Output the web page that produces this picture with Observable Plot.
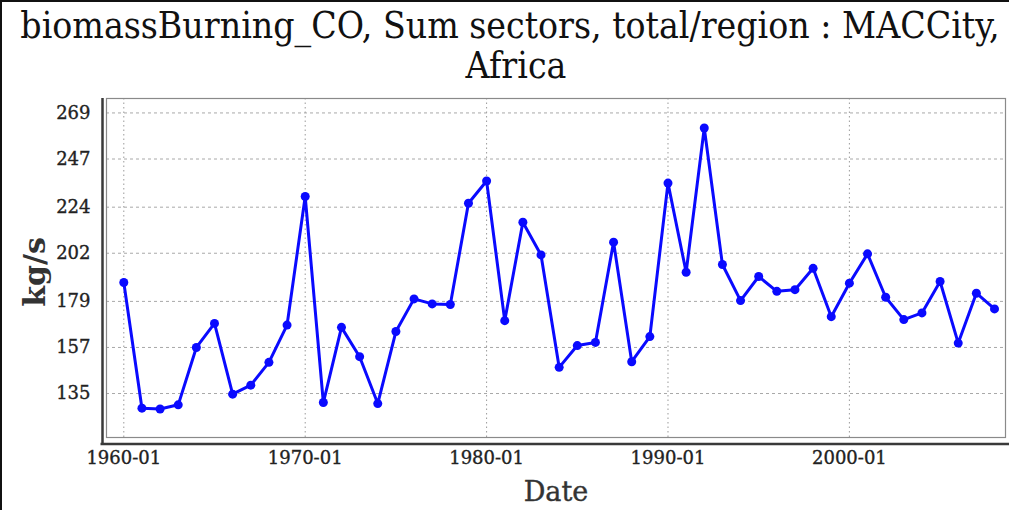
<!DOCTYPE html>
<html>
<head>
<meta charset="utf-8">
<script src="https://cdn.jsdelivr.net/npm/d3@7"></script>
<script src="https://cdn.jsdelivr.net/npm/@observablehq/plot@0.6"></script>
<style>
  html, body { margin: 0; padding: 0; background: #fff; }
  #wrap { position: relative; width: 1009px; height: 510px; overflow: hidden; }
  #wrap svg { position: absolute; left: 0; top: 0; }
  /* slightly heavier tick labels */
  #wrap svg g[aria-label$="tick label"] text { stroke: #222; stroke-width: 0.35px; }
  .title {
    position: absolute; left: 0; width: 1020px; white-space: nowrap;
    text-align: center; font-family: "DejaVu Serif Condensed", "DejaVu Serif", serif;
    font-stretch: condensed; font-size: 37px; line-height: 40px; color: #111;
  }
  #t1 { top: 6px; }
  #t2 { top: 46px; left: 6px; }
  #border { position: absolute; left: 0; top: 0; width: 1009px; height: 510px;
    border-left: 2px solid #111; border-top: 2px solid #111; box-sizing: border-box; pointer-events: none; }
</style>
</head>
<body>
<div id="wrap">
  <div id="chart"></div>
  <div class="title" id="t1">biomassBurning_CO, Sum sectors, total/region : MACCity,</div>
  <div class="title" id="t2">Africa</div>
  <div id="border"></div>
</div>
<script>
// Annual biomass-burning CO emissions over Africa (MACCity), kg/s
const years = [1960, 1961, 1962, 1963, 1964, 1965, 1966, 1967, 1968, 1969,
               1970, 1971, 1972, 1973, 1974, 1975, 1976, 1977, 1978, 1979,
               1980, 1981, 1982, 1983, 1984, 1985, 1986, 1987, 1988, 1989,
               1990, 1991, 1992, 1993, 1994, 1995, 1996, 1997, 1998, 1999,
               2000, 2001, 2002, 2003, 2004, 2005, 2006, 2007, 2008];
const emissions = [188.0, 128.0, 127.6, 129.6, 157.0, 168.5, 134.7, 139.0, 149.9, 167.7,
                   229.1, 130.7, 166.6, 152.6, 130.2, 164.6, 180.2, 177.8, 177.5, 225.9,
                   236.5, 169.8, 216.8, 201.2, 147.5, 157.9, 159.4, 207.3, 150.2, 162.2,
                   235.5, 192.9, 261.8, 196.6, 179.4, 190.9, 183.8, 184.6, 194.8, 171.7,
                   187.7, 201.7, 181.0, 170.3, 173.5, 188.5, 159.1, 182.9, 175.4];
const xTicks = [1960, 1970, 1980, 1990, 2000];
const xTickLabels = ["1960-01", "1970-01", "1980-01", "1990-01", "2000-01"];
const yTicks = [135, 157, 179, 202, 224, 247, 269];
const yLabel = "kg/s";
const xLabel = "Date";

const rows = years.map((year, i) => ({year, value: emissions[i]}));
const xDomain = [1959.046, 2008.606];
const yDomain = [114, 275.9];

const chart = Plot.plot({
  width: 1009,
  height: 510,
  marginTop: 98,
  marginBottom: 73,
  marginLeft: 106,
  marginRight: 4,
  style: {fontFamily: "DejaVu Serif", fontSize: "18px", color: "#222", background: "transparent"},
  x: {
    type: "linear", domain: xDomain, ticks: xTicks,
    tickFormat: d => xTickLabels[xTicks.indexOf(d)],
    tickSize: 0, tickPadding: 14, label: null
  },
  y: {
    domain: yDomain, ticks: yTicks, tickFormat: d => String(d),
    tickSize: 0, tickPadding: 16, label: null
  },
  marks: [
    // grid
    Plot.ruleX(xTicks, {stroke: "#9a9a9a", strokeWidth: 1, strokeDasharray: "1.5,3"}),
    Plot.ruleY(yTicks, {stroke: "#a8a8a8", strokeWidth: 1, strokeDasharray: "3,3"}),
    // plot box and the offset axis lines
    Plot.frame({stroke: "#8a8a8a", strokeWidth: 1.2}),
    Plot.ruleX([xDomain[0]], {stroke: "#3a3a3a", strokeWidth: 2.5, dx: -4, insetBottom: -7}),
    Plot.ruleY([yDomain[0]], {stroke: "#3a3a3a", strokeWidth: 2.5, dy: 6.5, insetLeft: -5.5, insetRight: -6}),
    // series
    Plot.line(rows, {x: "year", y: "value", stroke: "#0a0aff", strokeWidth: 3}),
    Plot.dot(rows, {x: "year", y: "value", fill: "#0a0aff", r: 4.5}),
    // axis titles
    Plot.text([yLabel], {frameAnchor: "left", dx: -71, dy: 4, rotate: -90, textAnchor: "middle", lineAnchor: "middle",
                         fontSize: 30, fontWeight: "bold", fill: "#333"}),
    Plot.text([xLabel], {frameAnchor: "bottom", dy: 55, textAnchor: "middle", lineAnchor: "middle",
                         fontSize: 27, fill: "#333", stroke: "#333", strokeWidth: 0.4})
  ]
});
document.getElementById("chart").appendChild(chart);
</script>
</body>
</html>
